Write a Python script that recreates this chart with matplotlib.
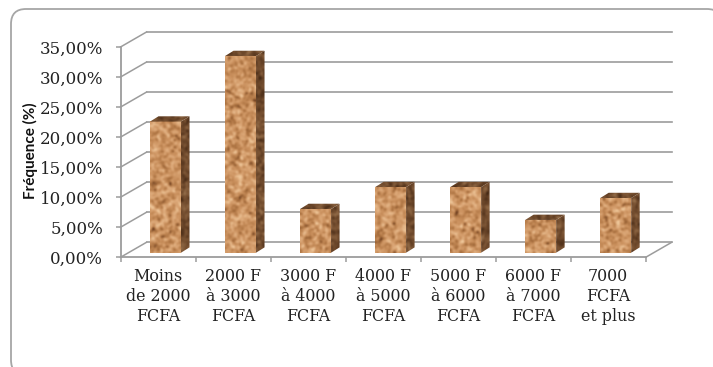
import numpy as np
import matplotlib
matplotlib.use('Agg')
import matplotlib.pyplot as plt
from matplotlib.colors import LinearSegmentedColormap
from matplotlib.patches import FancyBboxPatch, Polygon

categories = ['Moins\nde 2000\nFCFA', '2000 F\nà 3000\nFCFA', '3000 F\nà 4000\nFCFA',
              '4000 F\nà 5000\nFCFA', '5000 F\nà 6000\nFCFA', '6000 F\nà 7000\nFCFA',
              '7000\nFCFA\net plus']
frequencies = [21.82, 32.73, 7.27, 10.91, 10.91, 5.45, 9.09]
y_ticks = [0, 5, 10, 15, 20, 25, 30, 35]

W, H = 713, 367
LEFT, RIGHT, BOTTOM, TOP = 120.5, 645.7, 257.3, 47.0   # plot box in pixels
GRID = '#9c9c9c'
TEXT = '#222222'

fig = plt.figure(figsize=(W / 100, H / 100), dpi=100)

# rounded frame around the whole chart, its right and lower edges run off the figure
bg = fig.add_axes([0, 0, 1, 1])
bg.set_xlim(0, W)
bg.set_ylim(H, 0)
bg.axis('off')
bg.add_patch(FancyBboxPatch((26, 24), 681, 336, boxstyle='round,pad=15,rounding_size=15',
                            fc='white', ec='#a6a6a6', lw=1.3, clip_on=False))

ax = fig.add_axes([LEFT / W, 1 - BOTTOM / H, (RIGHT - LEFT) / W, (BOTTOM - TOP) / H])
ax.patch.set_alpha(0)
n = len(categories)
px_x = n / (RIGHT - LEFT)     # data units per pixel
px_y = 35 / (BOTTOM - TOP)
depth_x = 26 * px_x           # depth of the floor
depth_y = 15 * px_y

# back wall gridlines and left wall diagonals
for t in y_ticks:
    ax.plot([depth_x, n + depth_x], [t + depth_y] * 2, color=GRID, lw=1.2, clip_on=False, zorder=1)
    ax.plot([0, depth_x], [t, t + depth_y], color=GRID, lw=1.1, clip_on=False, zorder=1)
ax.plot([n, n + depth_x], [0, depth_y], color=GRID, lw=1.1, clip_on=False, zorder=1)


# cork texture for the bars
def cork(seed, rows, cols):
    rng = np.random.default_rng(seed)
    noise = rng.normal(size=(rows, cols))
    fy = np.fft.fftfreq(rows)[:, None]
    fx = np.fft.fftfreq(cols)[None, :]
    soft = np.fft.ifft2(np.fft.fft2(noise) * np.exp(-(fx ** 2 + fy ** 2) / (2 * 0.2 ** 2))).real
    soft = (soft - soft.mean()) / soft.std()
    return np.clip(0.55 + 0.17 * soft, 0, 1)


cork_cmap = LinearSegmentedColormap.from_list(
    'cork', ['#6b3d20', '#a9703f', '#c98f5c', '#dca878', '#eec79a'])
side_cmap = LinearSegmentedColormap.from_list(
    'cork_side', ['#3f2512', '#5e3c22', '#7a5333', '#96704c'])

bar_w = 31 * px_x
bar_x0 = 29.5 * px_x
bar_y0 = 4.6 * px_y
side_x = 8.5 * px_x
side_y = 5.3 * px_y

for i, v in enumerate(frequencies):
    x0, x1 = i + bar_x0, i + bar_x0 + bar_w
    y0, y1 = bar_y0, bar_y0 + v
    h_px = int(max(v / px_y / 1.4, 8))

    front = ax.imshow(cork(i, h_px, 22), cmap=cork_cmap, vmin=0, vmax=1, aspect='auto',
                      extent=(x0, x1, y0, y1), interpolation='bicubic', zorder=3)

    side = ax.imshow(cork(i + 20, h_px, 7), cmap=side_cmap, vmin=0, vmax=1, aspect='auto',
                     extent=(x1, x1 + side_x, y0, y1 + side_y), interpolation='bicubic', zorder=3)
    side_poly = Polygon([(x1, y0), (x1 + side_x, y0 + side_y), (x1 + side_x, y1 + side_y), (x1, y1)],
                        transform=ax.transData)
    side.set_clip_path(side_poly)

    top = ax.imshow(cork(i + 40, 5, 26), cmap=side_cmap, vmin=0, vmax=1, aspect='auto',
                    extent=(x0, x1 + side_x, y1, y1 + side_y), interpolation='bicubic', zorder=3)
    top_poly = Polygon([(x0, y1), (x1, y1), (x1 + side_x, y1 + side_y), (x0 + side_x, y1 + side_y)],
                       transform=ax.transData)
    top.set_clip_path(top_poly)

ax.set_xlim(0, n)
ax.set_ylim(0, 35)

for name in ['top', 'right']:
    ax.spines[name].set_visible(False)
for name in ['left', 'bottom']:
    ax.spines[name].set_color(GRID)
    ax.spines[name].set_linewidth(1.3)

ax.set_yticks(y_ticks)
ax.set_yticklabels(['{:.2f}%'.format(t).replace('.', ',') for t in y_ticks],
                   family='DejaVu Serif', fontsize=12, color=TEXT)
ax.tick_params(axis='y', length=3.6, width=1.1, color=GRID, pad=9)

# ticks sit between the categories, labels under the centres
ax.set_xticks(np.arange(n + 1))
ax.set_xticklabels([])
ax.tick_params(axis='x', which='major', length=3.6, width=1.1, color=GRID)
ax.set_xticks(np.arange(n) + 0.5, minor=True)
ax.set_xticklabels(categories, minor=True, family='DejaVu Serif', fontsize=11.4,
                   color=TEXT, linespacing=1.22)
ax.tick_params(axis='x', which='minor', length=0, pad=8)

fig.text(30 / W, 1 - 151 / H, 'Fréquence (%)', rotation=90, ha='center', va='center',
         family='Lato', fontweight='bold', fontsize=11, color='#111111')

fig.savefig('out.png', dpi=100)
